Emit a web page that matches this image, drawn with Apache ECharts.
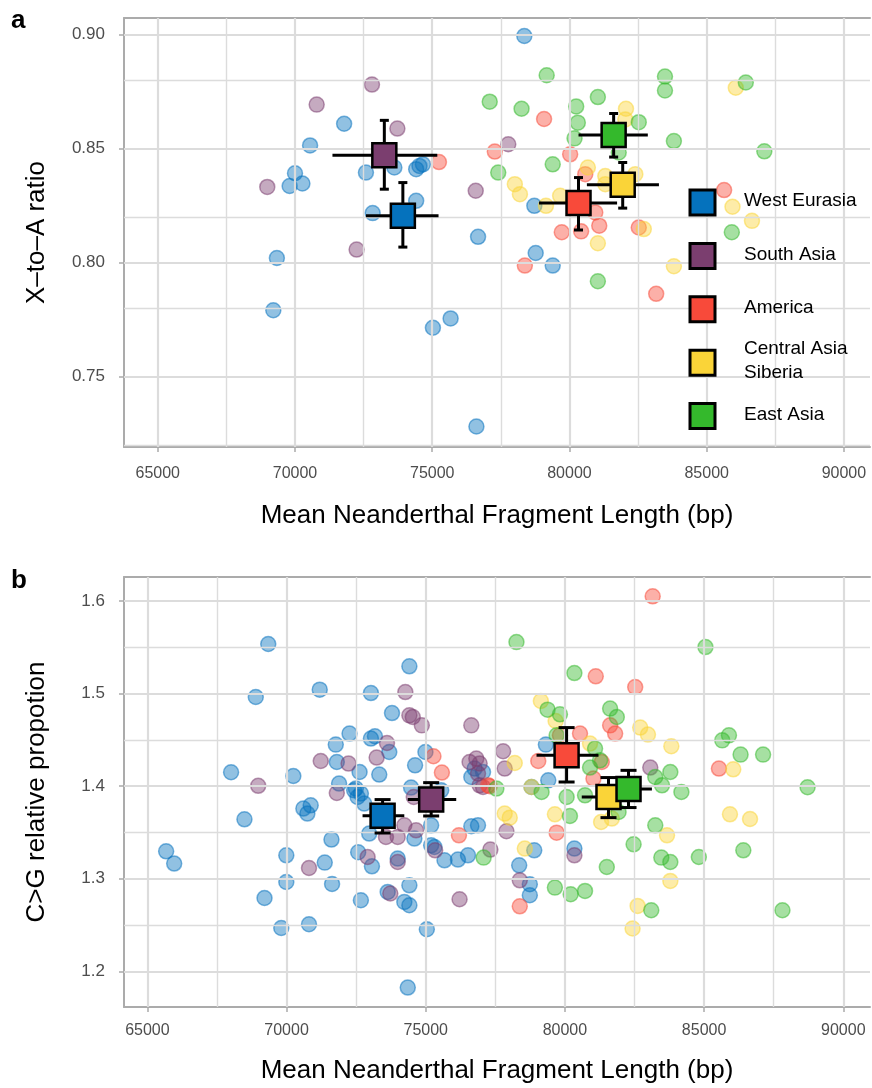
<!DOCTYPE html>
<html>
<head>
<meta charset="utf-8">
<script src="https://cdn.jsdelivr.net/npm/echarts@6/dist/echarts.min.js"></script>
<style>
  html, body { margin: 0; background: #fff; }
  #chart { width: 872px; height: 1088px; }
</style>
</head>
<body>
<div id="chart"></div>
<script>
// regions, legend order
const regions = ['West Eurasia', 'South Asia', 'America', 'Central Asia\nSiberia', 'East Asia']
const regionColors = ['#0572bd', '#7b3e6f', '#f84a3a', '#fad438', '#34b92c']

// tick / grid values
const xTicks = [65000, 70000, 75000, 80000, 85000, 90000]
const xGridValues = [65000, 67500, 70000, 72500, 75000, 77500, 80000, 82500, 85000, 87500, 90000]
const aYTicks = [0.75, 0.8, 0.85, 0.9]
const aYGridValues = [0.725, 0.75, 0.775, 0.8, 0.825, 0.85, 0.875, 0.9]
const bYTicks = [1.2, 1.3, 1.4, 1.5, 1.6]
const bYGridValues = [1.2, 1.25, 1.3, 1.35, 1.4, 1.45, 1.5, 1.55, 1.6]

// panel a: X-to-A ratio
const aWestEurasia = [
  [71790, 0.8609], [70550, 0.8514], [72585, 0.8395], [73620, 0.8417], [74415, 0.8410],
  [74535, 0.8424], [74660, 0.8431], [70000, 0.8392], [69805, 0.8336], [70270, 0.8347],
  [74415, 0.8271], [72830, 0.8217], [76670, 0.8113], [78355, 0.8994], [69340, 0.8020],
  [69210, 0.7791], [75025, 0.7714], [75670, 0.7755], [76610, 0.7281], [78770, 0.8042],
  [79390, 0.7987], [78720, 0.8249]
]
const aSouthAsia = [
  [72805, 0.8781], [70790, 0.8693], [73730, 0.8588], [68990, 0.8332], [76585, 0.8315],
  [72245, 0.8057], [77770, 0.8519]
]
const aAmerica = [
  [75245, 0.8441], [77280, 0.8487], [79075, 0.8630], [80025, 0.8475], [80575, 0.8388],
  [80940, 0.8220], [81085, 0.8162], [79720, 0.8133], [80425, 0.8137], [82525, 0.8154],
  [85635, 0.8318], [78375, 0.7987], [83160, 0.7863]
]
const aCentralAsia = [
  [86060, 0.8767], [82060, 0.8675], [82035, 0.8628], [80670, 0.8417], [81305, 0.8380],
  [82400, 0.8388], [81305, 0.8344], [78010, 0.8344], [78195, 0.8300], [79145, 0.8249],
  [79660, 0.8293], [82710, 0.8147], [85940, 0.8245], [86650, 0.8183], [81035, 0.8085],
  [83805, 0.7984]
]
const aEastAsia = [
  [79170, 0.8822], [83480, 0.8816], [83480, 0.8755], [86425, 0.8790], [77095, 0.8706],
  [78255, 0.8675], [80245, 0.8685], [81035, 0.8726], [80305, 0.8614], [82525, 0.8616],
  [80185, 0.8545], [83805, 0.8533], [87100, 0.8488], [81795, 0.8483], [77405, 0.8395],
  [79390, 0.8431], [85915, 0.8133], [81035, 0.7918]
]
// [x, y, xLow, xHigh, yLow, yHigh]
const aMeans = [
  [73930, 0.8205, 72585, 75230, 0.8068, 0.8351],
  [73255, 0.8471, 71365, 75185, 0.8322, 0.8624],
  [80330, 0.8261, 78890, 81735, 0.8143, 0.8373],
  [81940, 0.8341, 80635, 83260, 0.8239, 0.8439],
  [81610, 0.8560, 80330, 82855, 0.8463, 0.8654]
]

// panel b: C>G relative proportion
const bWestEurasia = [
  [69342, 1.5536], [68894, 1.4963], [71192, 1.5043], [73031, 1.5006], [72262, 1.4568],
  [71768, 1.4449], [71805, 1.4261], [72623, 1.4153], [68007, 1.4150], [70243, 1.4110],
  [71887, 1.4028], [73031, 1.4514], [68487, 1.3642], [65674, 1.3296], [65963, 1.3164],
  [69991, 1.3253], [69991, 1.2965], [69208, 1.2792], [71372, 1.3174], [71613, 1.3423],
  [71635, 1.2943], [69810, 1.2468], [70806, 1.2508], [72670, 1.2767], [72573, 1.3286],
  [70604, 1.3758], [70867, 1.3793], [70748, 1.3704], [72428, 1.3955], [72670, 1.3920],
  [72789, 1.3812], [72969, 1.3488], [73788, 1.4790], [73175, 1.4539], [73690, 1.4369],
  [74989, 1.4369], [74617, 1.4225], [73330, 1.4125], [72490, 1.3974], [72551, 1.3883],
  [74473, 1.3985], [75555, 1.3955], [76637, 1.4099], [74592, 1.3434], [75194, 1.3577],
  [76637, 1.3567], [76878, 1.3577], [75194, 1.3361], [75313, 1.3343], [73993, 1.3218],
  [75674, 1.3199], [76157, 1.3207], [76518, 1.3253], [78800, 1.3991], [79402, 1.4063],
  [78898, 1.3307], [78357, 1.3145], [80340, 1.3326], [73067, 1.3134], [78739, 1.2940],
  [78739, 1.2821], [73633, 1.2857], [74412, 1.2929], [74231, 1.2749], [74412, 1.2713],
  [75039, 1.2454], [74354, 1.1824], [74412, 1.5295], [79316, 1.4449], [76756, 1.4190],
  [77058, 1.4153]
]
const bSouthAsia = [
  [71228, 1.4272], [72226, 1.4244], [68981, 1.4004], [70806, 1.3116], [71805, 1.3926],
  [72912, 1.3235], [74412, 1.4765], [74534, 1.4747], [74859, 1.4657], [76637, 1.4657],
  [73608, 1.4466], [73236, 1.4309], [76575, 1.4261], [76817, 1.4298], [76936, 1.4244],
  [76936, 1.4009], [74570, 1.3883], [74231, 1.3577], [74653, 1.3523], [73993, 1.3451],
  [73571, 1.3451], [75338, 1.3307], [73993, 1.3181], [73727, 1.2840], [76215, 1.2778],
  [77058, 1.3991], [77899, 1.3513], [77322, 1.3315], [78378, 1.2983], [80340, 1.3253],
  [74267, 1.5017], [77780, 1.4377], [77837, 1.4190], [76878, 1.4136], [83066, 1.4201]
]
const bAmerica = [
  [75277, 1.4323], [75580, 1.4147], [76193, 1.3469], [77296, 1.3999], [77239, 1.4009],
  [79702, 1.3498], [78378, 1.2702], [81108, 1.5187], [81624, 1.4657], [79042, 1.4272],
  [81025, 1.4082], [81324, 1.4261], [79821, 1.4549], [80542, 1.4568], [81804, 1.4568],
  [83153, 1.6051], [82525, 1.5071], [85533, 1.4190]
]
const bCentralAsia = [
  [79136, 1.4920], [79666, 1.4704], [78198, 1.4250], [80902, 1.4460], [78800, 1.3991],
  [79640, 1.3696], [77837, 1.3704], [78018, 1.3660], [78559, 1.3326], [82705, 1.4633],
  [82983, 1.4557], [83823, 1.4431], [86048, 1.4182], [81299, 1.3613], [81685, 1.3650],
  [83668, 1.3469], [85929, 1.3696], [86650, 1.3645], [83787, 1.2976], [82612, 1.2706],
  [82431, 1.2462]
]
const bEastAsia = [
  [78259, 1.5557], [80340, 1.5222], [79377, 1.4827], [79821, 1.4776], [81624, 1.4838],
  [81865, 1.4747], [79702, 1.4549], [81083, 1.4406], [80902, 1.4201], [81263, 1.4279],
  [79161, 1.3937], [80062, 1.3883], [80722, 1.3901], [77538, 1.3974], [77080, 1.3228],
  [80181, 1.3678], [81505, 1.3127], [79640, 1.2904], [80207, 1.2832], [80722, 1.2868],
  [85652, 1.4495], [85893, 1.4549], [85049, 1.5503], [86311, 1.4341], [87119, 1.4341],
  [83787, 1.4153], [83246, 1.4099], [83488, 1.4009], [84184, 1.3937], [88717, 1.3988],
  [83246, 1.3577], [82467, 1.3372], [83463, 1.3228], [83787, 1.3181], [84811, 1.3235],
  [86409, 1.3307], [83102, 1.2659], [87815, 1.2659], [81927, 1.3721]
]
const bMeans = [
  [73450, 1.3680, 72730, 74230, 1.3494, 1.3855],
  [75195, 1.3855, 74355, 76095, 1.3678, 1.4038],
  [80060, 1.4333, 78980, 81205, 1.4045, 1.4633],
  [81565, 1.3883, 80605, 82120, 1.3660, 1.4093],
  [82285, 1.3969, 81540, 83125, 1.3769, 1.4171]
]

const aPoints = [aWestEurasia, aSouthAsia, aAmerica, aCentralAsia, aEastAsia]
const bPoints = [bWestEurasia, bSouthAsia, bAmerica, bCentralAsia, bEastAsia]

const FONT = "'Liberation Sans', Arial, Helvetica, sans-serif"
const AXIS_GRAY = '#ababab'
const GRID_GRAY = '#dcdcdc'

function rgba(hex, a) {
  const n = parseInt(hex.slice(1), 16)
  return 'rgba(' + (n >> 16) + ',' + ((n >> 8) & 255) + ',' + (n & 255) + ',' + a + ')'
}

function xAxisOpt(gridIndex, min, max, nameGap, labelMargin) {
  return {
    gridIndex,
    type: 'value',
    min,
    max,
    name: 'Mean Neanderthal Fragment Length (bp)',
    nameLocation: 'middle',
    nameGap,
    nameTextStyle: { fontFamily: FONT, fontSize: 26, color: '#000' },
    axisLine: { show: true, onZero: false, lineStyle: { color: AXIS_GRAY, width: 2 } },
    axisTick: { show: true, customValues: xTicks, length: 5, lineStyle: { color: AXIS_GRAY, width: 1.5 } },
    axisLabel: {
      customValues: xTicks,
      fontFamily: FONT,
      fontSize: 16,
      color: '#4d4d4d',
      margin: labelMargin,
      formatter: v => String(v)
    },
    splitLine: { show: false }
  }
}

function topBorderAxis(gridIndex, min, max) {
  return {
    gridIndex,
    type: 'value',
    position: 'top',
    min,
    max,
    axisLine: { show: true, onZero: false, lineStyle: { color: AXIS_GRAY, width: 2 } },
    axisTick: { show: false },
    axisLabel: { show: false },
    splitLine: { show: false }
  }
}

function yAxisOpt(gridIndex, min, max, ticks, digits, name) {
  return {
    gridIndex,
    type: 'value',
    min,
    max,
    name,
    nameLocation: 'middle',
    nameGap: 74,
    nameTextStyle: { fontFamily: FONT, fontSize: 26, color: '#000' },
    axisLine: { show: true, onZero: false, lineStyle: { color: AXIS_GRAY, width: 2 } },
    axisTick: { show: true, customValues: ticks, length: 5, lineStyle: { color: AXIS_GRAY, width: 1.5 } },
    axisLabel: {
      customValues: ticks,
      fontFamily: FONT,
      fontSize: 17,
      color: '#4d4d4d',
      margin: 19,
      formatter: v => v.toFixed(digits)
    },
    splitLine: { show: false }
  }
}

// background grid lines as a marker layer
function gridLineSeries(xi, yi, yGridValues, yTicks) {
  const lines = []
  xGridValues.forEach(v => {
    lines.push({ xAxis: v, lineStyle: { width: xTicks.includes(v) ? 2.2 : 1.4 } })
  })
  yGridValues.forEach(v => {
    lines.push({ yAxis: v, lineStyle: { width: yTicks.includes(v) ? 2.2 : 1.4 } })
  })
  return {
    type: 'line',
    xAxisIndex: xi,
    yAxisIndex: yi,
    data: [],
    z: 1,
    silent: true,
    markLine: {
      silent: true,
      symbol: ['none', 'none'],
      label: { show: false },
      animation: false,
      lineStyle: { color: GRID_GRAY, type: 'solid' },
      emphasis: { disabled: true },
      data: lines
    }
  }
}

function pointSeries(name, data, color, xi, yi) {
  return {
    name,
    type: 'scatter',
    xAxisIndex: xi,
    yAxisIndex: yi,
    data,
    symbolSize: 15,
    z: 3,
    silent: true,
    itemStyle: { color: rgba(color, 0.55), borderColor: rgba(color, 0.65), borderWidth: 1.5 }
  }
}

function errorSeries(means, xi, yi, cap) {
  return {
    type: 'custom',
    xAxisIndex: xi,
    yAxisIndex: yi,
    z: 5,
    silent: true,
    data: means,
    encode: { x: [0, 2, 3], y: [1, 4, 5] },
    renderItem: function (params, api) {
      const x = api.value(0)
      const y = api.value(1)
      const left = api.coord([api.value(2), y])
      const right = api.coord([api.value(3), y])
      const bottom = api.coord([x, api.value(4)])
      const top = api.coord([x, api.value(5)])
      const style = { stroke: '#000', lineWidth: 3 }
      return {
        type: 'group',
        children: [
          { type: 'line', shape: { x1: left[0], y1: left[1], x2: right[0], y2: right[1] }, style },
          { type: 'line', shape: { x1: top[0], y1: top[1], x2: bottom[0], y2: bottom[1] }, style },
          { type: 'line', shape: { x1: top[0] - cap, y1: top[1], x2: top[0] + cap, y2: top[1] }, style },
          { type: 'line', shape: { x1: bottom[0] - cap, y1: bottom[1], x2: bottom[0] + cap, y2: bottom[1] }, style }
        ]
      }
    }
  }
}

function meanSeries(means, xi, yi) {
  return {
    type: 'scatter',
    xAxisIndex: xi,
    yAxisIndex: yi,
    z: 6,
    silent: true,
    symbol: 'rect',
    symbolSize: 24,
    data: means.map((m, i) => ({
      value: [m[0], m[1]],
      itemStyle: { color: regionColors[i], borderColor: '#000', borderWidth: 2.5, opacity: 1 }
    }))
  }
}

// legend drawn in panel a
const legendItems = []
regions.forEach((r, i) => {
  const top = 190 + i * 53.4
  legendItems.push({
    type: 'rect',
    shape: { x: 690, y: top, width: 25, height: 25 },
    style: { fill: regionColors[i], stroke: '#000', lineWidth: 3 },
    z: 100
  })
  legendItems.push({
    type: 'text',
    x: 744,
    y: top + 11,
    style: {
      text: r,
      fill: '#000',
      font: '19px ' + FONT,
      verticalAlign: 'middle',
      lineHeight: 24
    },
    z: 100
  })
})

const series = [
  gridLineSeries(0, 0, aYGridValues, aYTicks),
  gridLineSeries(2, 1, bYGridValues, bYTicks)
]
regions.forEach((r, i) => {
  series.push(pointSeries(r, aPoints[i], regionColors[i], 0, 0))
})
regions.forEach((r, i) => {
  series.push(pointSeries(r, bPoints[i], regionColors[i], 2, 1))
})
series.push(errorSeries(aMeans, 0, 0, 4.5))
series.push(errorSeries(bMeans, 2, 1, 8))
series.push(meanSeries(aMeans, 0, 0))
series.push(meanSeries(bMeans, 2, 1))

const chart = echarts.init(document.getElementById('chart'))
const option = {
  animation: false,
  backgroundColor: '#fff',
  textStyle: { fontFamily: FONT },
  grid: [
    { left: 124, top: 18, width: 746, height: 429 },
    { left: 124, top: 577, width: 746, height: 430 }
  ],
  xAxis: [
    xAxisOpt(0, 63770, 90950, 56, 19),
    topBorderAxis(0, 63770, 90950),
    xAxisOpt(1, 64160, 90960, 51, 16),
    topBorderAxis(1, 64160, 90960)
  ],
  yAxis: [
    yAxisOpt(0, 0.7191, 0.9073, aYTicks, 2, 'X\u2013to\u2013A ratio'),
    yAxisOpt(1, 1.1614, 1.626, bYTicks, 1, 'C>G relative propotion')
  ],
  graphic: [
    { type: 'text', x: 11, y: 34, style: { text: 'a', font: 'bold 26px ' + FONT, fill: '#000', verticalAlign: 'bottom' } },
    { type: 'text', x: 11, y: 594, style: { text: 'b', font: 'bold 26px ' + FONT, fill: '#000', verticalAlign: 'bottom' } },
    { type: 'group', children: legendItems }
  ],
  series
}
option && chart.setOption(option)
</script>
</body>
</html>
